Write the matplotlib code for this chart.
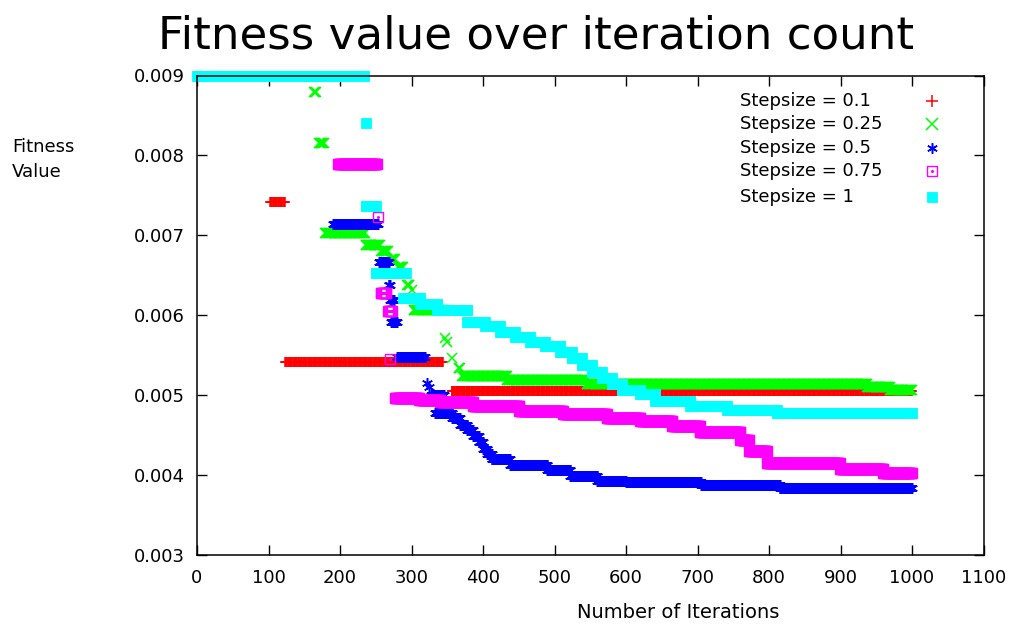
import numpy as np
import matplotlib
matplotlib.use("Agg")
import matplotlib.pyplot as plt

plt.rcParams['font.family'] = ['DejaVu Sans']

# ---- data: step segments (start iteration, end iteration, fitness value) ----
red_start = [102, 123, 356]
red_end   = [123, 344, 1000]
red_val   = [0.00742, 0.00542, 0.00505]

green_start = [164, 171, 179, 236, 258, 272, 281, 294, 300, 303, 347, 349, 356, 366, 371, 433, 545, 937, 969]
green_end   = [166, 177, 235, 256, 267, 277, 288, 297, 300, 345, 347, 349, 356, 368, 433, 545, 937, 969, 1000]
green_val   = [0.00879, 0.00815, 0.00703, 0.006875, 0.00681, 0.00671, 0.00661, 0.00638, 0.00631, 0.00607,
               0.00572, 0.00566, 0.00547, 0.00534, 0.00524, 0.00519, 0.00514, 0.00510, 0.00507]

blue_start = [190, 255, 268, 270, 272, 280, 322, 325, 327, 333, 357, 368, 378, 386, 394, 400, 406, 412,
              438, 490, 522, 560, 600, 705, 815]
blue_end   = [253, 268, 270, 275, 280, 319, 322, 325, 345, 357, 368, 378, 386, 394, 400, 406, 412, 438,
              490, 522, 560, 600, 705, 815, 1000]
blue_val   = [0.007144, 0.006663, 0.00638, 0.00619, 0.00592, 0.005481, 0.00515, 0.00510, 0.00500, 0.00478,
              0.00471, 0.00463, 0.00456, 0.00449, 0.00441, 0.00433, 0.00426, 0.00420, 0.00413, 0.00406,
              0.00399, 0.00393, 0.00391, 0.00387, 0.003835]

mag_start = [197, 253, 257, 267, 270, 277, 311, 340, 386, 451, 512, 573, 620, 665, 703, 760, 772, 797, 899, 960]
mag_end   = [252, 253, 265, 273, 270, 311, 340, 386, 451, 512, 573, 620, 665, 703, 760, 772, 797, 899, 960, 1000]
mag_val   = [0.007894, 0.00723, 0.00628, 0.006056, 0.00545, 0.00497, 0.00494, 0.00491, 0.00486, 0.00480,
             0.00477, 0.00472, 0.00468, 0.00461, 0.00454, 0.00444, 0.00430, 0.004156, 0.004075, 0.004025]

cyan_start = [0, 236, 236, 250, 288, 312, 336, 378, 403, 424, 445, 466, 487, 508, 524, 538, 552, 566, 580,
              594, 620, 641, 690, 741, 811]
cyan_end   = [233, 236, 250, 292, 312, 336, 378, 403, 424, 445, 466, 487, 508, 524, 538, 552, 566, 580, 594,
              620, 641, 690, 741, 811, 1000]
cyan_val   = [0.009, 0.00841, 0.00737, 0.006528, 0.00621, 0.00614, 0.00606, 0.00592, 0.00586, 0.00579,
              0.00573, 0.00567, 0.00561, 0.00554, 0.00547, 0.00538, 0.00529, 0.00522, 0.00514, 0.00507,
              0.00501, 0.00493, 0.00486, 0.00481, 0.00478]

labels = ["Stepsize = 0.1", "Stepsize = 0.25", "Stepsize = 0.5", "Stepsize = 0.75", "Stepsize = 1"]
x_ticks = list(range(0, 1101, 100))
y_ticks = [0.003, 0.004, 0.005, 0.006, 0.007, 0.008, 0.009]


def expand(starts, ends, vals):
    xs, ys = [], []
    for s, e, v in zip(starts, ends, vals):
        it = np.arange(s, e + 1)
        xs.append(it)
        ys.append(np.full(it.shape, v))
    return np.concatenate(xs), np.concatenate(ys)


W, H = 1015, 626
fig = plt.figure(figsize=(W / 100, H / 100), dpi=100)
ax = fig.add_axes([197 / W, 1 - 555 / H, (983.5 - 197) / W, (555 - 75.5) / H])

ms = 7.8
styles = [
    dict(color='#ff0000', marker='+', ms=ms, mew=1.1),
    dict(color='#00ff00', marker='x', ms=ms, mew=1.1),
    dict(color='#0000ff', marker=(6, 2, 0), ms=ms, mew=1.1),
    dict(color='#ff00ff', marker='s', ms=ms - 0.8, mew=1.0, mfc='none'),
    dict(color='#00ffff', marker='s', ms=ms - 0.6, mew=0.6),
]
series = [(red_start, red_end, red_val), (green_start, green_end, green_val),
          (blue_start, blue_end, blue_val), (mag_start, mag_end, mag_val),
          (cyan_start, cyan_end, cyan_val)]

for (s, e, v), st in zip(series, styles):
    x, y = expand(s, e, v)
    ax.plot(x, y, linestyle='none', clip_on=False, **st)
    if st['color'] == '#ff00ff':
        ax.plot(x, y, linestyle='none', marker='o', ms=1.2, color='#ff00ff', clip_on=False)

ax.set_xlim(0, 1100)
ax.set_ylim(0.003, 0.009)
ax.set_xticks(x_ticks)
ax.set_xticklabels([str(t) for t in x_ticks])
ax.set_yticks(y_ticks)
ax.set_yticklabels(["%.3f" % t for t in y_ticks])
ax.tick_params(direction='in', length=7, width=1.0, top=True, right=True, labelsize=13, colors='black')
ax.tick_params(axis='x', pad=10)
ax.tick_params(axis='y', pad=9)
for sp in ax.spines.values():
    sp.set_linewidth(1.1)

fig.text(536 / W, 1 - 48.5 / H, "Fitness value over iteration count", fontsize=32.5,
         ha='center', va='baseline')
fig.text(678 / W, 1 - 612 / H, "Number of Iterations", fontsize=14, ha='center', va='center')
fig.text(12 / W, 1 - 147 / H, "Fitness", fontsize=13, ha='left', va='center')
fig.text(12 / W, 1 - 172 / H, "Value", fontsize=13, ha='left', va='center')

# legend (gnuplot style: text left, marker right)
leg_y = [100.7, 124.3, 148.3, 171.5, 196.7]
leg_ms = [9.0, 8.2, 7.6, 6.9, 6.6]
for lab, st, yy, lms in zip(labels, styles, leg_y, leg_ms):
    fig.text(740 / W, 1 - yy / H, lab, fontsize=13, ha='left', va='center')
    st2 = dict(st)
    st2['ms'] = lms
    ax.plot([932 / W], [1 - yy / H], linestyle='none', transform=fig.transFigure, clip_on=False, **st2)
    if st['color'] == '#ff00ff':
        ax.plot([932 / W], [1 - yy / H], linestyle='none', marker='o', ms=1.2, color='#ff00ff',
                transform=fig.transFigure, clip_on=False)

fig.savefig("out.png", dpi=100)
